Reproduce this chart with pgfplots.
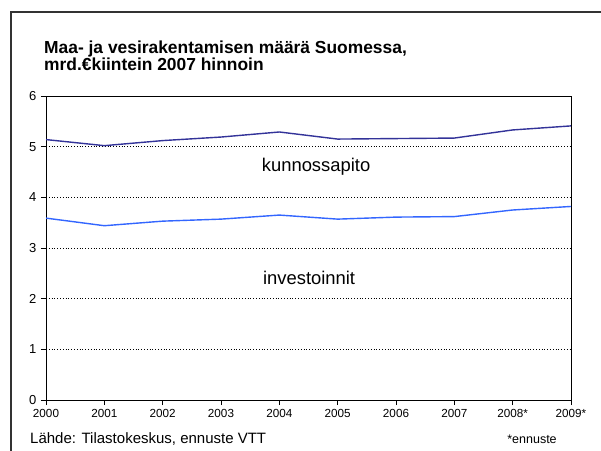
\documentclass[border=0pt]{standalone}
\usepackage{fontspec}
\setmainfont{Liberation Sans}
\usepackage{pgfplots}
\pgfplotsset{compat=1.18}
\definecolor{kunn}{RGB}{51,51,153}
\definecolor{inv}{RGB}{51,102,255}
\begin{document}
\begin{tikzpicture}[x=1pt,y=1pt]
\useasboundingbox (0,0) rectangle (601,450);
\draw[line width=1.6pt, black!80] (11,-20) -- (11,438) -- (640,438);
\node[anchor=base west, inner sep=0pt, font=\bfseries\fontsize{17.4}{19}\selectfont] at (44,396.7) {Maa- ja vesirakentamisen määrä Suomessa,};
\node[anchor=base west, inner sep=0pt, font=\bfseries\fontsize{17.4}{19}\selectfont] at (44,379) {mrd.€kiintein 2007 hinnoin};
\node[anchor=base west, inner sep=0pt, font=\fontsize{15}{16}\selectfont] at (30,7) {Lähde: Tilastokeskus, ennuste VTT};
\node[anchor=base, inner sep=0pt, font=\fontsize{12.5}{14}\selectfont] at (532,7) {*ennuste};
\begin{axis}[
  at={(46pt,50pt)}, anchor=south west,
  scale only axis, width=525pt, height=304pt,
  xmin=0, xmax=9, ymin=0, ymax=6,
  xtick={0,...,9},
  xticklabels={2000,2001,2002,2003,2004,2005,2006,2007,2008*,2009*},
  ytick={0,...,6},
  tick align=outside, tick pos=left,
  major tick length=5pt,
  every tick/.style={black, line width=0.8pt},
  axis line style={black, line width=1pt},
  ymajorgrids,
  grid style={black, line width=0.8pt, dotted},
  xticklabel style={font=\fontsize{11.7}{13}\selectfont, yshift=-1pt},
  yticklabel style={font=\fontsize{13}{14}\selectfont, xshift=-1pt},
  /pgf/number format/assume math mode=true,
]
\addplot[kunn, line width=1.4pt] coordinates {
(0,5.14) (1,5.02) (2,5.12) (3,5.19) (4,5.29) (5,5.15) (6,5.16) (7,5.17) (8,5.33) (9,5.41)};
\addplot[inv, line width=1.4pt] coordinates {
(0,3.59) (1,3.44) (2,3.53) (3,3.57) (4,3.65) (5,3.57) (6,3.61) (7,3.62) (8,3.75) (9,3.82)};
\node[font=\fontsize{18.4}{20}\selectfont] at (axis cs:4.63,4.6) {kunnossapito};
\node[font=\fontsize{18.4}{20}\selectfont] at (axis cs:4.51,2.41) {investoinnit};
\end{axis}
\end{tikzpicture}
\end{document}
